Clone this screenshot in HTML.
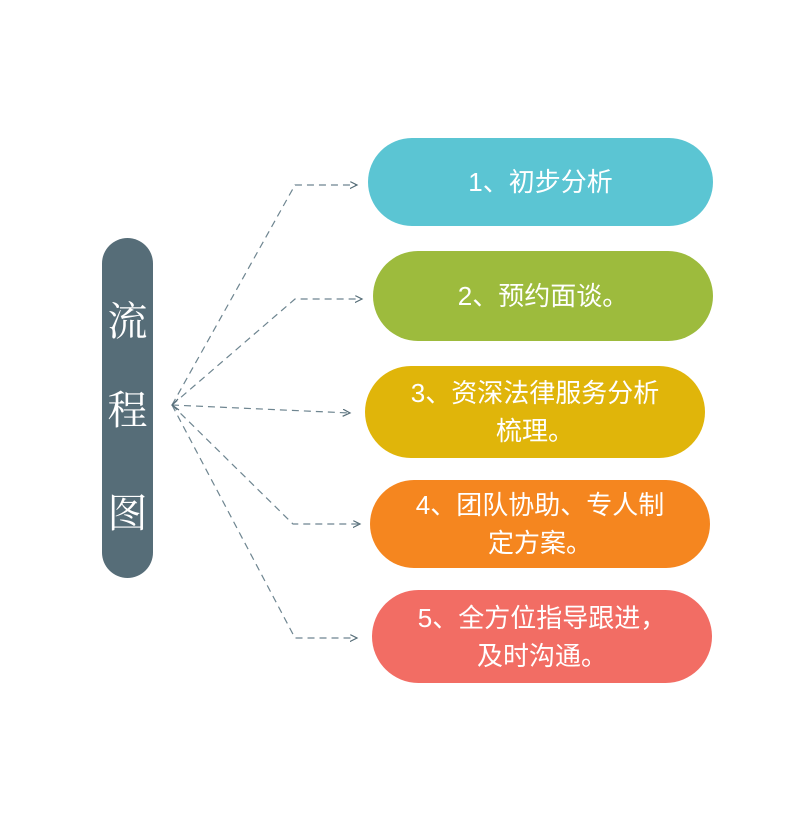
<!DOCTYPE html>
<html><head><meta charset="utf-8"><style>
body{margin:0;width:800px;height:837px;background:#fff;position:relative;overflow:hidden;font-family:"Liberation Sans","Noto Sans CJK SC",sans-serif}
.p{position:absolute;border-radius:50px;color:#fff;font-size:26px;display:flex;align-items:center;justify-content:center;text-align:center;line-height:38px}
.l{position:absolute;left:102px;top:238px;width:51px;height:340px;background:#566d78;border-radius:26px}
.c{position:absolute;left:102px;width:51px;text-align:center;color:#fff;font-size:40px;font-family:"Liberation Serif","Noto Serif CJK SC",serif}
</style></head><body>
<div class="l"></div>
<div class="c" style="top:290px">流</div>
<div class="c" style="top:379px">程</div>
<div class="c" style="top:482px">图</div>
<svg width="800" height="837" style="position:absolute;left:0;top:0">
<defs><marker id="a" markerWidth="8" markerHeight="8" refX="6" refY="3" orient="auto"><path d="M0,0 L6,3 L0,6" fill="none" stroke="#566d78" stroke-width="1"/></marker></defs>
<g fill="none" stroke="#6e8590" stroke-width="1.2" stroke-dasharray="7,5">
<polyline points="172,405 295,185 357,185" marker-end="url(#a)"/>
<polyline points="172,405 295,299 362,299" marker-end="url(#a)"/>
<polyline points="172,405 350,413" marker-end="url(#a)"/>
<polyline points="172,405 293,524 360,524" marker-end="url(#a)"/>
<polyline points="172,405 295,638 357,638" marker-end="url(#a)"/>
</g>
<path d="M178,399 L172,405 L179,410" fill="none" stroke="#566d78" stroke-width="1.2"/>
</svg>
<div class="p" style="left:368px;top:138px;width:345px;height:88px;background:#5bc5d3">1、初步分析</div>
<div class="p" style="left:373px;top:251px;width:340px;height:90px;background:#9dbb3d">2、预约面谈。</div>
<div class="p" style="left:365px;top:366px;width:340px;height:92px;background:#e0b50a">3、资深法律服务分析<br>梳理。</div>
<div class="p" style="left:370px;top:480px;width:340px;height:88px;background:#f5861f">4、团队协助、专人制<br>定方案。</div>
<div class="p" style="left:372px;top:590px;width:340px;height:93px;background:#f26d64">5、全方位指导跟进，<br>及时沟通。</div>
</body></html>
